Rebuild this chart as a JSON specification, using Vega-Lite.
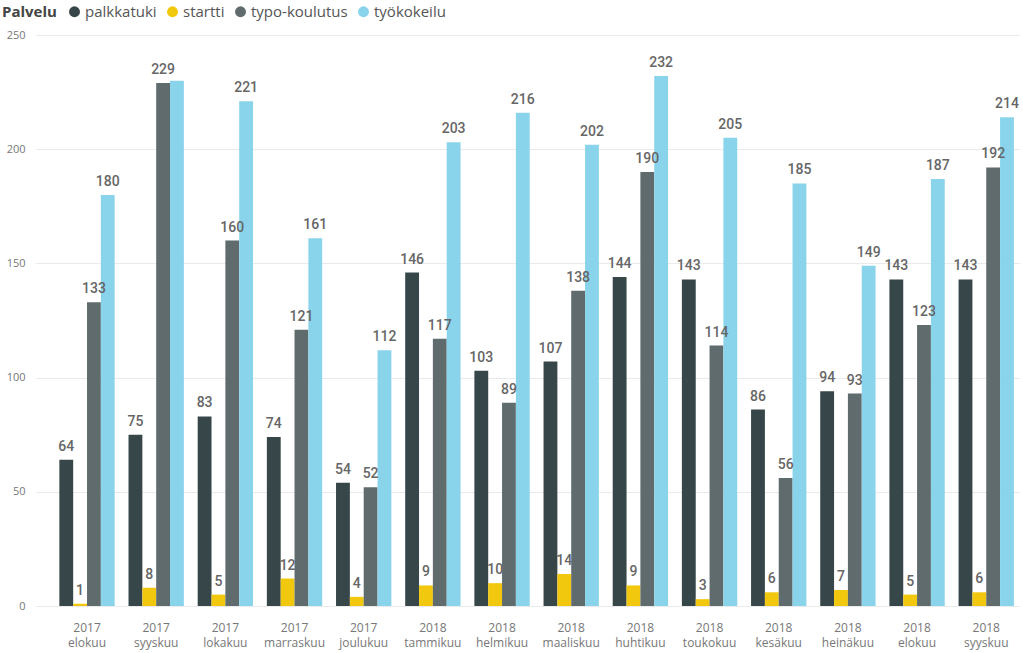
{
  "$schema": "https://vega.github.io/schema/vega-lite/v6.json",
  "autosize": {"type": "none"},
  "width": 985,
  "height": 571,
  "padding": {"left": 35, "top": 35, "right": 3, "bottom": 47},
  "background": "white",
  "data": {
    "values": [
      {"kk": "2017 elokuu", "palvelu": "palkkatuki", "arvo": 64},
      {"kk": "2017 elokuu", "palvelu": "startti", "arvo": 1},
      {"kk": "2017 elokuu", "palvelu": "typo-koulutus", "arvo": 133},
      {"kk": "2017 elokuu", "palvelu": "työkokeilu", "arvo": 180},
      {"kk": "2017 syyskuu", "palvelu": "palkkatuki", "arvo": 75},
      {"kk": "2017 syyskuu", "palvelu": "startti", "arvo": 8},
      {"kk": "2017 syyskuu", "palvelu": "typo-koulutus", "arvo": 229},
      {"kk": "2017 syyskuu", "palvelu": "työkokeilu", "arvo": 230},
      {"kk": "2017 lokakuu", "palvelu": "palkkatuki", "arvo": 83},
      {"kk": "2017 lokakuu", "palvelu": "startti", "arvo": 5},
      {"kk": "2017 lokakuu", "palvelu": "typo-koulutus", "arvo": 160},
      {"kk": "2017 lokakuu", "palvelu": "työkokeilu", "arvo": 221},
      {"kk": "2017 marraskuu", "palvelu": "palkkatuki", "arvo": 74},
      {"kk": "2017 marraskuu", "palvelu": "startti", "arvo": 12},
      {"kk": "2017 marraskuu", "palvelu": "typo-koulutus", "arvo": 121},
      {"kk": "2017 marraskuu", "palvelu": "työkokeilu", "arvo": 161},
      {"kk": "2017 joulukuu", "palvelu": "palkkatuki", "arvo": 54},
      {"kk": "2017 joulukuu", "palvelu": "startti", "arvo": 4},
      {"kk": "2017 joulukuu", "palvelu": "typo-koulutus", "arvo": 52},
      {"kk": "2017 joulukuu", "palvelu": "työkokeilu", "arvo": 112},
      {"kk": "2018 tammikuu", "palvelu": "palkkatuki", "arvo": 146},
      {"kk": "2018 tammikuu", "palvelu": "startti", "arvo": 9},
      {"kk": "2018 tammikuu", "palvelu": "typo-koulutus", "arvo": 117},
      {"kk": "2018 tammikuu", "palvelu": "työkokeilu", "arvo": 203},
      {"kk": "2018 helmikuu", "palvelu": "palkkatuki", "arvo": 103},
      {"kk": "2018 helmikuu", "palvelu": "startti", "arvo": 10},
      {"kk": "2018 helmikuu", "palvelu": "typo-koulutus", "arvo": 89},
      {"kk": "2018 helmikuu", "palvelu": "työkokeilu", "arvo": 216},
      {"kk": "2018 maaliskuu", "palvelu": "palkkatuki", "arvo": 107},
      {"kk": "2018 maaliskuu", "palvelu": "startti", "arvo": 14},
      {"kk": "2018 maaliskuu", "palvelu": "typo-koulutus", "arvo": 138},
      {"kk": "2018 maaliskuu", "palvelu": "työkokeilu", "arvo": 202},
      {"kk": "2018 huhtikuu", "palvelu": "palkkatuki", "arvo": 144},
      {"kk": "2018 huhtikuu", "palvelu": "startti", "arvo": 9},
      {"kk": "2018 huhtikuu", "palvelu": "typo-koulutus", "arvo": 190},
      {"kk": "2018 huhtikuu", "palvelu": "työkokeilu", "arvo": 232},
      {"kk": "2018 toukokuu", "palvelu": "palkkatuki", "arvo": 143},
      {"kk": "2018 toukokuu", "palvelu": "startti", "arvo": 3},
      {"kk": "2018 toukokuu", "palvelu": "typo-koulutus", "arvo": 114},
      {"kk": "2018 toukokuu", "palvelu": "työkokeilu", "arvo": 205},
      {"kk": "2018 kesäkuu", "palvelu": "palkkatuki", "arvo": 86},
      {"kk": "2018 kesäkuu", "palvelu": "startti", "arvo": 6},
      {"kk": "2018 kesäkuu", "palvelu": "typo-koulutus", "arvo": 56},
      {"kk": "2018 kesäkuu", "palvelu": "työkokeilu", "arvo": 185},
      {"kk": "2018 heinäkuu", "palvelu": "palkkatuki", "arvo": 94},
      {"kk": "2018 heinäkuu", "palvelu": "startti", "arvo": 7},
      {"kk": "2018 heinäkuu", "palvelu": "typo-koulutus", "arvo": 93},
      {"kk": "2018 heinäkuu", "palvelu": "työkokeilu", "arvo": 149},
      {"kk": "2018 elokuu", "palvelu": "palkkatuki", "arvo": 143},
      {"kk": "2018 elokuu", "palvelu": "startti", "arvo": 5},
      {"kk": "2018 elokuu", "palvelu": "typo-koulutus", "arvo": 123},
      {"kk": "2018 elokuu", "palvelu": "työkokeilu", "arvo": 187},
      {"kk": "2018 syyskuu", "palvelu": "palkkatuki", "arvo": 143},
      {"kk": "2018 syyskuu", "palvelu": "startti", "arvo": 6},
      {"kk": "2018 syyskuu", "palvelu": "typo-koulutus", "arvo": 192},
      {"kk": "2018 syyskuu", "palvelu": "työkokeilu", "arvo": 214}
    ]
  },
  "encoding": {
    "x": {
      "field": "kk", "type": "nominal", "sort": null,
      "scale": {"paddingInner": 0.2, "paddingOuter": 0.22, "align": 0.8},
      "axis": {
        "title": null, "labelAngle": 0, "domain": false, "ticks": false,
        "labelExpr": "split(datum.label, ' ')",
        "labelFont": "Open Sans", "labelFontSize": 12, "labelColor": "#777777",
        "labelLineHeight": 15, "labelPadding": 16, "labelBaseline": "top"
      }
    },
    "xOffset": {
      "field": "palvelu", "type": "nominal",
      "sort": ["palkkatuki", "startti", "typo-koulutus", "työkokeilu"],
      "scale": {"paddingInner": 0, "paddingOuter": 0}
    },
    "y": {
      "field": "arvo", "type": "quantitative",
      "scale": {"domain": [0, 250]},
      "axis": {
        "title": null, "values": [0, 50, 100, 150, 200, 250], "domain": false, "ticks": false,
        "gridColor": "#EAEAEA", "gridWidth": 1,
        "labelFont": "Open Sans", "labelFontSize": 11, "labelColor": "#777777", "labelPadding": 10
      }
    }
  },
  "layer": [
    {
      "mark": {"type": "bar"},
      "encoding": {
        "color": {
          "field": "palvelu", "type": "nominal",
          "sort": ["palkkatuki", "startti", "typo-koulutus", "työkokeilu"],
          "scale": {
            "domain": ["palkkatuki", "startti", "typo-koulutus", "työkokeilu"],
            "range": ["#374649", "#F2C80F", "#5F6B6D", "#8AD4EB"]
          },
          "legend": {
            "title": "Palvelu", "orient": "none", "direction": "horizontal",
            "legendX": -33, "legendY": -31, "titleOrient": "left",
            "titleFont": "Open Sans", "titleFontSize": 15, "titleFontWeight": "bold", "titleColor": "#444444",
            "titlePadding": 10,
            "labelFont": "Open Sans", "labelFontSize": 15, "labelColor": "#555555",
            "symbolType": "circle", "symbolSize": 120, "symbolStrokeWidth": 0,
            "labelOffset": 3, "columnPadding": 8
          }
        }
      }
    },
    {
      "transform": [{"filter": "!(datum.kk == '2017 syyskuu' && datum.palvelu == 'työkokeilu')"}],
      "mark": {"type": "text", "baseline": "bottom", "dy": -6, "font": "Roboto", "fontSize": 14, "fontWeight": 500, "color": "#666666"},
      "encoding": {"text": {"field": "arvo", "type": "quantitative"}}
    }
  ],
  "config": {"view": {"stroke": null}}
}
